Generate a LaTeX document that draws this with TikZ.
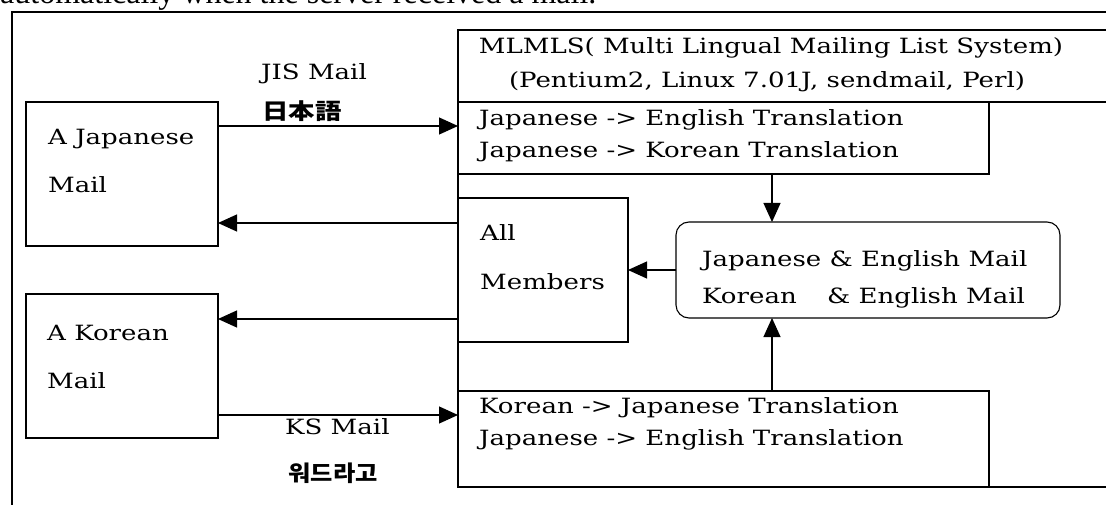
\documentclass[tikz,border=0pt]{standalone}
\usepackage{fontspec}
\usetikzlibrary{arrows.meta}
\setmainfont{DejaVu Serif}[FakeStretch=1.24]
\newfontfamily\capfont{Liberation Serif}
\newfontfamily\jpfont{Noto Sans CJK JP}[FakeStretch=1.2]
\newfontfamily\krfont{Noto Sans CJK KR}[FakeStretch=1.1]
\newcommand\mainsz{\fontsize{21}{32}\selectfont}
\begin{document}
\begin{tikzpicture}[x=1pt,y=-1pt,
  box/.style={draw, line width=1.1pt, inner sep=0pt, outer sep=0pt, anchor=north west},
  txt/.style={inner sep=0pt, anchor=base west, font=\mainsz},
  arr/.style={draw, line width=1.1pt, -{Triangle[length=19pt,width=17pt]}},
  frame/.style={draw, line width=1.6pt}]
\useasboundingbox (0,0) rectangle (1106,505);
\clip (0,0) rectangle (1106,505);
% partially visible caption line above the figure
\node[inner sep=0pt, anchor=base west, font=\capfont\fontsize{32}{32}\selectfont] (cap) at (0,4) {automatically when the server received a mail.};
% outer frame
\draw[frame] (12,520) -- (12,12) -- (1130,12);
% boxes
\node[box, minimum width=192pt, minimum height=144pt] (jpbox) at (26,102) {};
\node[box, minimum width=192pt, minimum height=144pt] (krbox) at (26,294) {};
\node[box, minimum width=700pt, minimum height=457pt] (mlmls) at (458,30) {};
\node[box, minimum width=531pt, minimum height=72pt] (tr1) at (458,102) {};
\node[box, minimum width=170pt, minimum height=144pt] (allm) at (458,198) {};
\node[box, minimum width=531pt, minimum height=96pt] (tr2) at (458,391) {};
\node[box, rounded corners=13pt, minimum width=384pt, minimum height=96pt] (mail) at (676,222) {};
\draw[line width=1.1pt] (tr1.north east) -- (1130,102);
% texts
\node[txt, anchor=base] (t1) at (771,54) {MLMLS( Multi Lingual Mailing List System)};
\node[txt, anchor=base] (t2) at (767,88) {(Pentium2, Linux 7.01J, sendmail, Perl)};
\node[txt] (tr1a) at (479,126) {Japanese -> English Translation};
\node[txt] (tr1b) at (479,158) {Japanese -> Korean Translation};
\node[txt] (tr2a) at (479,413) {Korean -> Japanese Translation};
\node[txt] (tr2b) at (479,445) {Japanese -> English Translation};
\node[txt] (alla) at (480,241) {All};
\node[txt] (allb) at (480,290) {Members};
\node[txt] (jpa) at (48,145) {A Japanese};
\node[txt] (jpb) at (48,193) {Mail};
\node[txt] (kra) at (47,340) {A Korean};
\node[txt] (krb) at (47,388) {Mail};
\node[txt] (mla) at (702,266) {Japanese \& English Mail};
\node[txt] (mlb) at (702,303) {\makebox[125pt][l]{Korean}\& English Mail};
\node[txt] (jis) at (261,80) {JIS Mail};
\node[inner sep=0pt, anchor=base west, font=\jpfont\bfseries\fontsize{22}{22}\selectfont] (jis2) at (262,120) {日本語};
\node[txt] (ks) at (285,434) {KS Mail};
\node[inner sep=0pt, anchor=center, font=\krfont\bfseries\fontsize{22}{22}\selectfont] (ks2) at (333,473) {워드라고};
% reference levels
\coordinate (y126) at (0,126);
\coordinate (y223) at (0,223);
\coordinate (y319) at (0,319);
\coordinate (y415) at (0,415);
\coordinate (xc) at (772,0);
% connectors
\draw[arr] (jpbox.east |- y126) -- (tr1.west |- y126);
\draw[arr] (allm.west |- y223) -- (jpbox.east |- y223);
\draw[arr] (allm.west |- y319) -- (krbox.east |- y319);
\draw[arr] (krbox.east |- y415) -- (tr2.west |- y415);
\draw[arr] (tr1.south -| xc) -- (mail.north -| xc);
\draw[arr] (tr2.north -| xc) -- (mail.south -| xc);
\draw[arr] (mail.west) -- (allm.east);
\end{tikzpicture}
\end{document}
